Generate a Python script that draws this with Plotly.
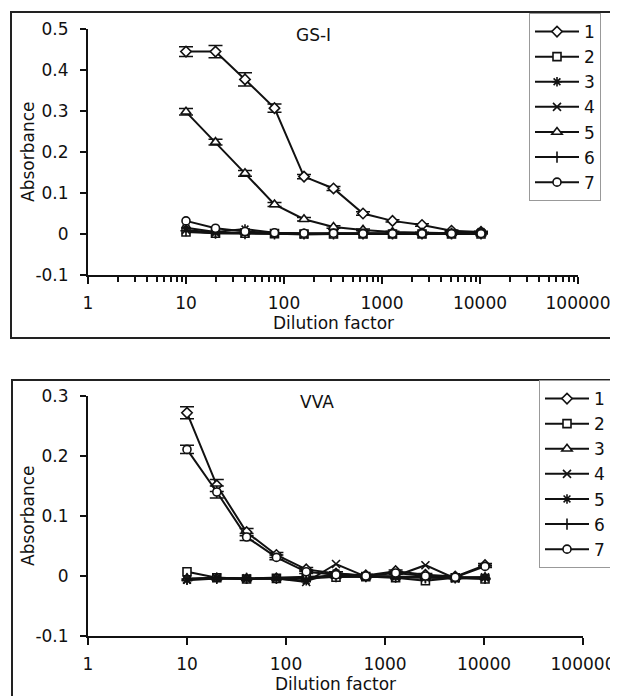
import plotly.graph_objects as go

# page body adds an 8px margin; the figure is sized to fill the rest of the 618x696 window
PAGE_OFF = 8
W, H = 618 - PAGE_OFF, 696 - PAGE_OFF

dilution = [10, 20, 40, 80, 160, 320, 640, 1280, 2560, 5120, 10240]
x_tick_vals = [1, 10, 100, 1000, 10000, 100000]
x_tick_text = ["1", "10", "100", "1000", "10000", "100000"]

# GS-I panel
gs_names = ["1", "2", "3", "4", "5", "6", "7"]
gs_1 = [0.445, 0.445, 0.377, 0.307, 0.140, 0.111, 0.050, 0.032, 0.022, 0.008, 0.005]
gs_1_err = [0.012, 0.015, 0.016, 0.010, 0.005, 0.005, 0.004, 0.003, 0.003, 0.002, 0.002]
gs_2 = [0.005, 0.002, 0.002, 0.001, 0.000, 0.000, 0.000, 0.000, 0.000, 0.000, 0.000]
gs_3 = [0.015, 0.005, 0.012, 0.003, 0.000, 0.002, 0.002, 0.001, 0.001, 0.002, 0.006]
gs_4 = [0.010, 0.003, 0.003, 0.001, -0.001, 0.000, 0.000, -0.001, 0.000, 0.000, 0.002]
gs_5 = [0.298, 0.224, 0.148, 0.072, 0.036, 0.017, 0.010, 0.005, 0.003, 0.002, 0.001]
gs_5_err = [0.008, 0.007, 0.007, 0.005, 0.004, 0.003, 0.002, 0.002, 0.001, 0.001, 0.001]
gs_6 = [0.008, 0.002, 0.001, 0.000, 0.000, 0.000, 0.000, 0.000, 0.000, 0.000, 0.000]
gs_7 = [0.032, 0.014, 0.006, 0.003, 0.002, 0.002, 0.001, 0.001, 0.001, 0.001, 0.001]
gs_y_vals = [-0.1, 0, 0.1, 0.2, 0.3, 0.4, 0.5]
gs_y_text = ["-0.1", "0", "0.1", "0.2", "0.3", "0.4", "0.5"]

# VVA panel
vva_names = ["1", "2", "3", "4", "5", "6", "7"]
vva_1 = [0.272, 0.151, 0.073, 0.035, 0.011, 0.004, 0.001, 0.008, 0.002, -0.001, 0.018]
vva_1_err = [0.010, 0.010, 0.006, 0.004, 0.003, 0.003, 0.002, 0.002, 0.002, 0.002, 0.003]
vva_2 = [0.007, -0.003, -0.005, -0.004, -0.003, -0.002, -0.001, -0.003, -0.008, -0.003, -0.005]
vva_3 = [-0.004, -0.003, -0.004, -0.003, -0.002, 0.000, -0.001, -0.001, -0.002, -0.002, -0.002]
vva_4 = [-0.006, -0.003, -0.004, -0.004, -0.010, 0.020, -0.001, 0.000, 0.018, -0.004, -0.002]
vva_5 = [-0.007, -0.004, -0.005, -0.004, -0.008, 0.005, -0.001, -0.002, -0.003, -0.003, -0.003]
vva_6 = [-0.005, -0.004, -0.004, -0.004, -0.004, -0.001, -0.001, -0.002, -0.003, -0.003, -0.004]
vva_7 = [0.211, 0.140, 0.065, 0.031, 0.007, 0.002, 0.000, 0.005, 0.000, -0.002, 0.016]
vva_7_err = [0.007, 0.010, 0.006, 0.004, 0.003, 0.002, 0.002, 0.002, 0.002, 0.002, 0.002]
vva_y_vals = [-0.1, 0, 0.1, 0.2, 0.3]
vva_y_text = ["-0.1", "0", "0.1", "0.2", "0.3"]

FONT = "DejaVu Sans"
INK = "#111111"

def px_x(p):
    return (p - PAGE_OFF) / W

def px_y(p):
    return 1 - (p - PAGE_OFF) / H

fig = go.Figure()

def add_series(y, name, symbol, xa, ya, legend, err=None):
    filled = symbol in ("diamond", "square", "triangle-up", "circle")
    marker = dict(symbol=symbol, size=8 if symbol != "triangle-up" else 9,
                  color="white" if filled else INK,
                  line=dict(color=INK, width=1.6))
    kw = {}
    if err is not None:
        kw["error_y"] = dict(type="data", array=err, visible=True,
                             color=INK, thickness=1.5, width=7)
    fig.add_trace(go.Scatter(
        x=dilution, y=y, name=name, mode="lines+markers",
        line=dict(color=INK, width=2), marker=marker,
        xaxis=xa, yaxis=ya, legend=legend, legendgroup=legend + name, **kw))

gs_series = [(gs_1, "diamond", gs_1_err), (gs_2, "square", None),
             (gs_3, "asterisk-open", None), (gs_4, "x-thin-open", None),
             (gs_5, "triangle-up", gs_5_err), (gs_6, "cross-thin-open", None),
             (gs_7, "circle", None)]
for (y, sym, err), nm in zip(gs_series, gs_names):
    add_series(y, nm, sym, "x", "y", "legend", err)

vva_series = [(vva_1, "diamond", vva_1_err), (vva_2, "square", None),
              (vva_3, "triangle-up", None), (vva_4, "x-thin-open", None),
              (vva_5, "asterisk-open", None), (vva_6, "cross-thin-open", None),
              (vva_7, "circle", vva_7_err)]
for (y, sym, err), nm in zip(vva_series, vva_names):
    add_series(y, nm, sym, "x2", "y2", "legend2", err)

tickfont = dict(family=FONT, size=17, color=INK)

minor_vals = [m * 10 ** d for d in range(0, 5) for m in range(2, 10)]

common_x = dict(type="log", range=[0, 5], showline=True, linecolor=INK, linewidth=2,
                ticks="outside", ticklen=7, tickwidth=2, tickcolor=INK,
                tickvals=x_tick_vals, ticktext=x_tick_text, tickfont=tickfont,
                showgrid=False, zeroline=False, ticklabelstandoff=5, automargin=False)
common_y = dict(showline=True, linecolor=INK, linewidth=2, ticks="outside",
                ticklen=6, tickwidth=2, tickcolor=INK, tickfont=tickfont,
                showgrid=False, zeroline=False, ticklabelstandoff=8, automargin=False)

fig.update_layout(
    width=W, height=H, margin=dict(l=0, r=0, t=0, b=0, autoexpand=False),
    paper_bgcolor="white", plot_bgcolor="white",
    font=dict(family=FONT, color=INK, size=17),
    xaxis=dict(common_x, domain=[px_x(88), px_x(578)], anchor="y",
               minor=dict(tickvals=minor_vals, ticks="outside", ticklen=5,
                          tickwidth=1.5, tickcolor=INK, showgrid=False)),
    yaxis=dict(common_y, domain=[px_y(275), px_y(29)], anchor="x",
               range=[-0.1, 0.5], tickvals=gs_y_vals, ticktext=gs_y_text),
    xaxis2=dict(common_x, domain=[px_x(88), px_x(583)], anchor="y2"),
    yaxis2=dict(common_y, domain=[px_y(636), px_y(396)], anchor="x2",
                range=[-0.1, 0.3], tickvals=vva_y_vals, ticktext=vva_y_text),
    legend=dict(x=px_x(529), y=px_y(13), xanchor="left", yanchor="top",
                bordercolor="#999999", borderwidth=1, bgcolor="white",
                font=dict(family=FONT, size=17, color=INK),
                tracegroupgap=0, itemwidth=44),
    legend2=dict(x=px_x(539), y=px_y(380), xanchor="left", yanchor="top",
                 bordercolor="#999999", borderwidth=1, bgcolor="white",
                 font=dict(family=FONT, size=17, color=INK),
                 tracegroupgap=0, itemwidth=44),
    showlegend=True,
)

shapes = [
    dict(type="rect", xref="paper", yref="paper",
         x0=px_x(11), x1=px_x(613), y0=px_y(338), y1=px_y(12),
         line=dict(color="#222222", width=2), layer="below"),
    dict(type="rect", xref="paper", yref="paper",
         x0=px_x(12), x1=px_x(617), y0=px_y(705), y1=px_y(380),
         line=dict(color="#222222", width=2), layer="below"),
]
fig.update_layout(shapes=shapes)

ann_font = dict(family=FONT, size=17, color=INK)
def label(text, x, y, angle=0):
    return dict(text=text, x=px_x(x), y=px_y(y), xref="paper", yref="paper",
                xanchor="center", yanchor="middle", showarrow=False,
                textangle=angle, font=ann_font)

annotations = [
    label("GS-I", 313, 35),
    label("VVA", 317, 402),
    label("Dilution factor", 333, 323),
    label("Dilution factor", 335, 684),
    label("Absorbance", 28, 152, -90),
    label("Absorbance", 28, 516, -90),
]
fig.update_layout(annotations=annotations)

fig.write_html("out.html")
